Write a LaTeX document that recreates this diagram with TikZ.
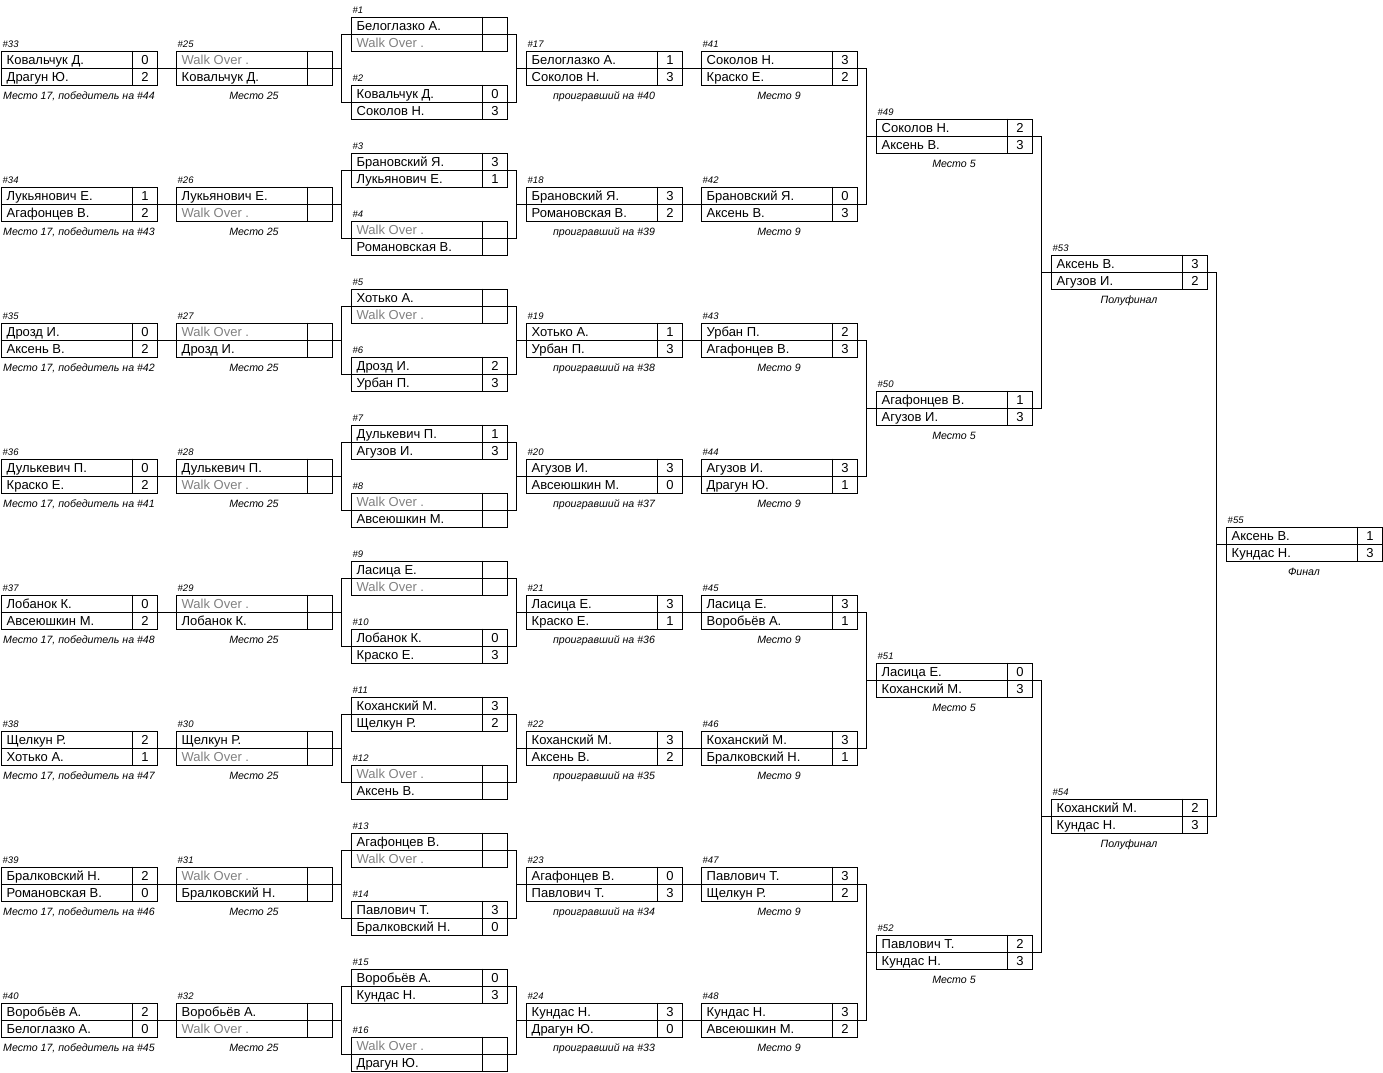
\documentclass[tikz,border=0pt]{standalone}
\usepackage{fontspec}
\setmainfont{Liberation Sans}
\usetikzlibrary{calc,positioning}

\def\scoreW{25}
\newcommand{\wo}{\textcolor{gray}{Walk Over .}}

\tikzset{
	matchbox/.style={draw, line width=1pt, minimum width=156pt, minimum height=34pt, inner sep=0pt},
	player/.style={anchor=base west, inner sep=0pt, font=\fontsize{13}{13}\selectfont},
	score/.style={anchor=base, inner sep=0pt, font=\fontsize{13}{13}\selectfont},
	matchnum/.style={anchor=base west, inner sep=0pt, font=\fontsize{9.5}{10}\selectfont\itshape},
	caption/.style={anchor=base, inner sep=0pt, font=\fontsize{10.6}{11}\selectfont\itshape},
	link/.style={line width=1pt},
}

% Матч (Match): номер, x, y, игрок 1, счёт 1, игрок 2, счёт 2, подпись
\newcommand{\duel}[8]{%
	\node[matchbox] (m#1) at (#2,#3) {};
	\draw[link] (m#1.west) -- (m#1.east);
	\draw[link] ($(m#1.north east)+(-\scoreW,0)$) -- ($(m#1.south east)+(-\scoreW,0)$);
	\node[matchnum] (m#1-n) at ($(m#1.north west)+(2,-3.5)$) {\##1};
	\node[player] (m#1-a) at ($(m#1.west)+(6,-3.5)$) {#4};
	\node[player] (m#1-b) at ($(m#1.west)+(6,13.5)$) {#6};
	\node[score] (m#1-as) at ($(m#1.east)+(-\scoreW/2,-3.5)$) {#5};
	\node[score] (m#1-bs) at ($(m#1.east)+(-\scoreW/2,13.5)$) {#7};
	\node[caption] (m#1-c) at ($(m#1.south)+(0,14)$) {#8};
}

% Скобка вправо (bracket to next match)
\newcommand{\joinright}[3]{%
	\coordinate (j#3) at ($(m#1.east)!.5!(m#3.west |- m#1.east)$);
	\draw[link] (m#1.east) -- (j#3) |- (m#2.east);
	\draw[link] (j#3 |- m#3.west) -- (m#3.west);
}

% Скобка влево (bracket from previous match)
\newcommand{\joinleft}[3]{%
	\coordinate (k#1) at ($(m#1.east)!.5!(m#2.west |- m#1.east)$);
	\draw[link] (m#2.west) -- (k#1 |- m#2.west) -- (k#1 |- m#3.west) -- (m#3.west);
	\draw[link] (m#1.east) -- (k#1);
}

\begin{document}
\begin{tikzpicture}[x=1pt, y=-1pt]
	\useasboundingbox (0,0) rectangle (1383,1072);

	% Место 17
	\duel{33}{79}{68}{Ковальчук Д.}{0}{Драгун Ю.}{2}{Место 17, победитель на \#44}
	\duel{34}{79}{204}{Лукьянович Е.}{1}{Агафонцев В.}{2}{Место 17, победитель на \#43}
	\duel{35}{79}{340}{Дрозд И.}{0}{Аксень В.}{2}{Место 17, победитель на \#42}
	\duel{36}{79}{476}{Дулькевич П.}{0}{Краско Е.}{2}{Место 17, победитель на \#41}
	\duel{37}{79}{612}{Лобанок К.}{0}{Авсеюшкин М.}{2}{Место 17, победитель на \#48}
	\duel{38}{79}{748}{Щелкун Р.}{2}{Хотько А.}{1}{Место 17, победитель на \#47}
	\duel{39}{79}{884}{Бралковский Н.}{2}{Романовская В.}{0}{Место 17, победитель на \#46}
	\duel{40}{79}{1020}{Воробьёв А.}{2}{Белоглазко А.}{0}{Место 17, победитель на \#45}

	% Место 25
	\duel{25}{254}{68}{\wo}{}{Ковальчук Д.}{}{Место 25}
	\duel{26}{254}{204}{Лукьянович Е.}{}{\wo}{}{Место 25}
	\duel{27}{254}{340}{\wo}{}{Дрозд И.}{}{Место 25}
	\duel{28}{254}{476}{Дулькевич П.}{}{\wo}{}{Место 25}
	\duel{29}{254}{612}{\wo}{}{Лобанок К.}{}{Место 25}
	\duel{30}{254}{748}{Щелкун Р.}{}{\wo}{}{Место 25}
	\duel{31}{254}{884}{\wo}{}{Бралковский Н.}{}{Место 25}
	\duel{32}{254}{1020}{Воробьёв А.}{}{\wo}{}{Место 25}

	% Первый круг (Round 1)
	\duel{1}{429}{34}{Белоглазко А.}{}{\wo}{}{}
	\duel{2}{429}{102}{Ковальчук Д.}{0}{Соколов Н.}{3}{}
	\duel{3}{429}{170}{Брановский Я.}{3}{Лукьянович Е.}{1}{}
	\duel{4}{429}{238}{\wo}{}{Романовская В.}{}{}
	\duel{5}{429}{306}{Хотько А.}{}{\wo}{}{}
	\duel{6}{429}{374}{Дрозд И.}{2}{Урбан П.}{3}{}
	\duel{7}{429}{442}{Дулькевич П.}{1}{Агузов И.}{3}{}
	\duel{8}{429}{510}{\wo}{}{Авсеюшкин М.}{}{}
	\duel{9}{429}{578}{Ласица Е.}{}{\wo}{}{}
	\duel{10}{429}{646}{Лобанок К.}{0}{Краско Е.}{3}{}
	\duel{11}{429}{714}{Коханский М.}{3}{Щелкун Р.}{2}{}
	\duel{12}{429}{782}{\wo}{}{Аксень В.}{}{}
	\duel{13}{429}{850}{Агафонцев В.}{}{\wo}{}{}
	\duel{14}{429}{918}{Павлович Т.}{3}{Бралковский Н.}{0}{}
	\duel{15}{429}{986}{Воробьёв А.}{0}{Кундас Н.}{3}{}
	\duel{16}{429}{1054}{\wo}{}{Драгун Ю.}{}{}

	% Второй круг (Round 2)
	\duel{17}{604}{68}{Белоглазко А.}{1}{Соколов Н.}{3}{проигравший на \#40}
	\duel{18}{604}{204}{Брановский Я.}{3}{Романовская В.}{2}{проигравший на \#39}
	\duel{19}{604}{340}{Хотько А.}{1}{Урбан П.}{3}{проигравший на \#38}
	\duel{20}{604}{476}{Агузов И.}{3}{Авсеюшкин М.}{0}{проигравший на \#37}
	\duel{21}{604}{612}{Ласица Е.}{3}{Краско Е.}{1}{проигравший на \#36}
	\duel{22}{604}{748}{Коханский М.}{3}{Аксень В.}{2}{проигравший на \#35}
	\duel{23}{604}{884}{Агафонцев В.}{0}{Павлович Т.}{3}{проигравший на \#34}
	\duel{24}{604}{1020}{Кундас Н.}{3}{Драгун Ю.}{0}{проигравший на \#33}

	% Место 9
	\duel{41}{779}{68}{Соколов Н.}{3}{Краско Е.}{2}{Место 9}
	\duel{42}{779}{204}{Брановский Я.}{0}{Аксень В.}{3}{Место 9}
	\duel{43}{779}{340}{Урбан П.}{2}{Агафонцев В.}{3}{Место 9}
	\duel{44}{779}{476}{Агузов И.}{3}{Драгун Ю.}{1}{Место 9}
	\duel{45}{779}{612}{Ласица Е.}{3}{Воробьёв А.}{1}{Место 9}
	\duel{46}{779}{748}{Коханский М.}{3}{Бралковский Н.}{1}{Место 9}
	\duel{47}{779}{884}{Павлович Т.}{3}{Щелкун Р.}{2}{Место 9}
	\duel{48}{779}{1020}{Кундас Н.}{3}{Авсеюшкин М.}{2}{Место 9}

	% Место 5
	\duel{49}{954}{136}{Соколов Н.}{2}{Аксень В.}{3}{Место 5}
	\duel{50}{954}{408}{Агафонцев В.}{1}{Агузов И.}{3}{Место 5}
	\duel{51}{954}{680}{Ласица Е.}{0}{Коханский М.}{3}{Место 5}
	\duel{52}{954}{952}{Павлович Т.}{2}{Кундас Н.}{3}{Место 5}

	% Полуфинал и финал (Semifinal, final)
	\duel{53}{1129}{272}{Аксень В.}{3}{Агузов И.}{2}{Полуфинал}
	\duel{54}{1129}{816}{Коханский М.}{2}{Кундас Н.}{3}{Полуфинал}
	\duel{55}{1304}{544}{Аксень В.}{1}{Кундас Н.}{3}{Финал}

	% Прямые линии (straight links)
	\draw[link] (m33.east) -- (m25.west);
	\draw[link] (m34.east) -- (m26.west);
	\draw[link] (m35.east) -- (m27.west);
	\draw[link] (m36.east) -- (m28.west);
	\draw[link] (m37.east) -- (m29.west);
	\draw[link] (m38.east) -- (m30.west);
	\draw[link] (m39.east) -- (m31.west);
	\draw[link] (m40.east) -- (m32.west);

	\draw[link] (m17.east) -- (m41.west);
	\draw[link] (m18.east) -- (m42.west);
	\draw[link] (m19.east) -- (m43.west);
	\draw[link] (m20.east) -- (m44.west);
	\draw[link] (m21.east) -- (m45.west);
	\draw[link] (m22.east) -- (m46.west);
	\draw[link] (m23.east) -- (m47.west);
	\draw[link] (m24.east) -- (m48.west);

	% Скобки (brackets)
	\joinleft{25}{1}{2}
	\joinleft{26}{3}{4}
	\joinleft{27}{5}{6}
	\joinleft{28}{7}{8}
	\joinleft{29}{9}{10}
	\joinleft{30}{11}{12}
	\joinleft{31}{13}{14}
	\joinleft{32}{15}{16}

	\joinright{1}{2}{17}
	\joinright{3}{4}{18}
	\joinright{5}{6}{19}
	\joinright{7}{8}{20}
	\joinright{9}{10}{21}
	\joinright{11}{12}{22}
	\joinright{13}{14}{23}
	\joinright{15}{16}{24}

	\joinright{41}{42}{49}
	\joinright{43}{44}{50}
	\joinright{45}{46}{51}
	\joinright{47}{48}{52}

	\joinright{49}{50}{53}
	\joinright{51}{52}{54}
	\joinright{53}{54}{55}

\end{tikzpicture}
\end{document}
